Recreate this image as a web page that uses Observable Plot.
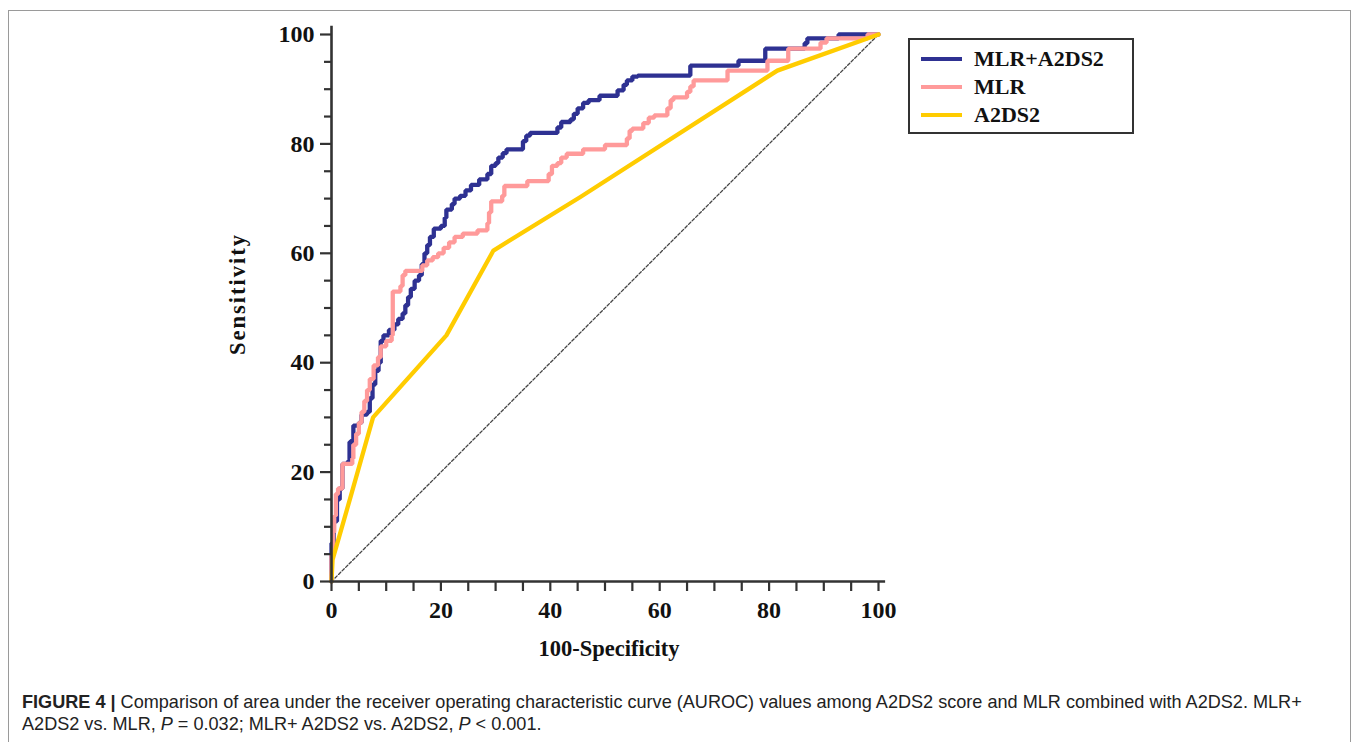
<!DOCTYPE html>
<html>
<head>
<meta charset="utf-8">
<script src="https://cdn.jsdelivr.net/npm/d3@7"></script>
<script src="https://cdn.jsdelivr.net/npm/@observablehq/plot@0.6"></script>
<style>
  html, body { margin: 0; padding: 0; background: #fff; }
  #wrap { position: relative; width: 1358px; height: 742px; overflow: hidden; }
  #frame { position: absolute; left: 8px; top: 10px; width: 1341px; height: 760px; border: 1px solid #9a9a9a; }
  #chart { position: absolute; left: 0; top: 0; }
  .serif { font-family: "Liberation Serif", "Times New Roman", serif; font-weight: bold; color: #111; }
  #xtitle { position: absolute; left: 609px; top: 649px; transform: translate(-50%, -50%); font-size: 22.5px; white-space: nowrap; }
  #ytitle { position: absolute; left: 238px; top: 294px; transform: translate(-50%, -50%) rotate(-90deg); font-size: 22.5px; white-space: nowrap; letter-spacing: 2px; }
  #legend { position: absolute; left: 908px; top: 38px; width: 222px; height: 92px; border: 2px solid #333; }
  .row { position: absolute; left: 0; height: 28px; width: 100%; }
  .sw { position: absolute; left: 11px; width: 41px; height: 4px; top: 12px; }
  .lt { position: absolute; left: 64px; top: 0; font-size: 22px; line-height: 28px; white-space: nowrap; }
  #caption { position: absolute; left: 22px; top: 691px; width: 1330px; font-family: "Liberation Sans", Arial, sans-serif; font-size: 18.1px; line-height: 22px; color: #222; white-space: nowrap; }
  #chart svg text { font-size: 24px; }
</style>
</head>
<body>
<div id="wrap">
  <div id="frame"></div>
  <div id="chart"></div>
  <div id="xtitle" class="serif">100-Specificity</div>
  <div id="ytitle" class="serif">Sensitivity</div>
  <div id="legend" class="serif"></div>
  <div id="caption"><b>FIGURE 4 |</b> Comparison of area under the receiver operating characteristic curve (AUROC) values among A2DS2 score and MLR combined with A2DS2. MLR+<br>A2DS2 vs. MLR, <i>P</i> = 0.032; MLR+ A2DS2 vs. A2DS2, <i>P</i> &lt; 0.001.</div>
</div>
<script>
// ---- data (100-Specificity, Sensitivity) ----
const seriesNames = ["MLR+A2DS2", "MLR", "A2DS2"];
const seriesColors = ["#2e3192", "#ff9a9a", "#ffcc00"];

// step curves: each point = x where the curve jumps up to a new sensitivity
const mlrA2ds2Points = [
  [0,0],[0,7],[0.4,11],[1,15],[1.5,17],[2,21.5],[3,22],[3.3,25.5],[3.8,26],[4,28.5],[5,29],
  [5.5,30.5],[6.5,31],[7,33.5],[7.5,36],[8,38.5],[8.6,40],[9,44],[9.5,45],[10.5,46],[11.5,47],
  [12.2,48],[13,49],[13.5,50.5],[14,52],[14.5,53.5],[15.2,55],[16,56],[16.5,58],[17,60],
  [17.5,61.5],[18,63],[18.7,64.5],[20,65],[20.7,66.5],[21,68],[22,69],[22.5,70],[23.5,70.5],
  [24.5,71.5],[25.5,72.5],[27,73.5],[28.5,74.5],[29.2,76],[30,76.5],[30.5,77.5],[31.3,78.3],
  [32,79],[35,80.5],[35.6,81.5],[36.3,82],[41.3,83],[42,84],[43.7,84.5],[44.3,85.5],[45,86.5],
  [46,87.5],[47,88],[49,88.8],[52.3,89.8],[53.4,90.8],[54,91.6],[55,92.3],[56,92.5],[65.6,94.3],
  [74.4,95.2],[79.3,97.4],[86.5,98.4],[87,99.3],[92.7,100],[100,100]
];
const mlrPoints = [
  [0,0],[0,5],[0.3,9],[0.5,12],[0.8,16],[1.2,17],[2,21.5],[3.8,22.5],[4,25],[4.5,27],[5,29],
  [5.5,31],[6,33],[6.5,35],[7,37],[7.7,39.5],[8.5,41],[9,43],[10,44],[11,45],[11.2,53],
  [12.6,54],[13,56],[13.5,56.8],[16.6,57.8],[17.5,58.7],[18.5,59.3],[19.5,60],[20.5,61],
  [21.5,62],[22.5,63],[24,63.6],[26.7,64.2],[28.5,65.5],[28.8,67.5],[29.2,69.5],[31.2,70.5],
  [31.6,72.3],[35.8,73.2],[39.7,74.5],[40.3,76],[41.3,76.5],[42,77.5],[43,78.2],[46,79],
  [50,79.8],[54,81],[54.5,82.4],[55,82.8],[57,83.8],[58,84.8],[59,85.2],[61.4,86.5],[62,88],
  [62.5,88.5],[65,89.5],[65.6,90.5],[66.2,91.6],[72.4,93.4],[79.7,95.2],[83.5,97.4],
  [89.4,98.5],[90.5,99.3],[98,100],[100,100]
];
// A2DS2 is drawn as straight segments between its cut-points
const a2ds2Points = [
  [0,0],[0.2,4],[3.5,15.5],[7.6,30],[21,45],[29.6,60.5],[45.5,70.3],[81.5,93.4],[100,100]
];
const referencePoints = [[0,0],[100,100]];

const xTickValues = [0,20,40,60,80,100];
const yTickValues = [0,20,40,60,80,100];
const minorTickValues = [5,10,15,25,30,35,45,50,55,65,70,75,85,90,95];

// ---- build table ----
const rows = (pts, name) => pts.map(([x, y]) => ({x, y, name}));
const dataBlue = rows(mlrA2ds2Points, seriesNames[0]);
const dataPink = rows(mlrPoints, seriesNames[1]);
const dataYellow = rows(a2ds2Points, seriesNames[2]);

const font = '"Liberation Serif", "Times New Roman", serif';
const axisCommon = {stroke: "#333", strokeWidth: 2.2, fill: "#111", fontSize: 24, fontWeight: "bold", fontFamily: font, label: null};

const chart = Plot.plot({
  width: 1358,
  height: 680,
  marginLeft: 331,
  marginRight: 480,
  marginTop: 34,
  marginBottom: 99,
  x: {domain: [0, 100]},
  y: {domain: [0, 100]},
  color: {domain: seriesNames, range: seriesColors},
  style: {fontFamily: font, fontWeight: "bold", fontSize: "24px", background: "transparent", overflow: "visible"},
  marks: [
    Plot.line(referencePoints, {x: d => d[0], y: d => d[1], stroke: "#444", strokeWidth: 1.3, strokeDasharray: "3,2"}),
    Plot.line(dataBlue, {x: "x", y: "y", stroke: "name", strokeWidth: 4.3, curve: "step-after", strokeLinejoin: "miter"}),
    Plot.line(dataPink, {x: "x", y: "y", stroke: "name", strokeWidth: 4.3, curve: "step-after", strokeLinejoin: "miter"}),
    Plot.line(dataYellow, {x: "x", y: "y", stroke: "name", strokeWidth: 4.3}),
    Plot.axisY({...axisCommon, ticks: yTickValues, tickSize: 11, tickPadding: 6}),
    Plot.axisY({...axisCommon, ticks: minorTickValues, tickSize: 7, tickFormat: () => ""}),
    Plot.axisX({...axisCommon, ticks: xTickValues, tickSize: 10, tickPadding: 9}),
    Plot.axisX({...axisCommon, ticks: minorTickValues, tickSize: 10, tickFormat: () => ""}),
    Plot.ruleX([0], {y1: 0, y2: 101.5, stroke: "#333", strokeWidth: 2.6}),
    Plot.ruleY([0], {x1: -0.2, x2: 101.3, stroke: "#333", strokeWidth: 2.6})
  ]
});
document.getElementById("chart").appendChild(chart);

// ---- legend ----
const legend = document.getElementById("legend");
seriesNames.forEach((name, i) => {
  const row = document.createElement("div");
  row.className = "row";
  row.style.top = (5 + i * 28) + "px";
  const sw = document.createElement("div");
  sw.className = "sw";
  sw.style.background = seriesColors[i];
  const lt = document.createElement("div");
  lt.className = "lt";
  lt.textContent = name;
  row.appendChild(sw);
  row.appendChild(lt);
  legend.appendChild(row);
});
</script>
</body>
</html>
